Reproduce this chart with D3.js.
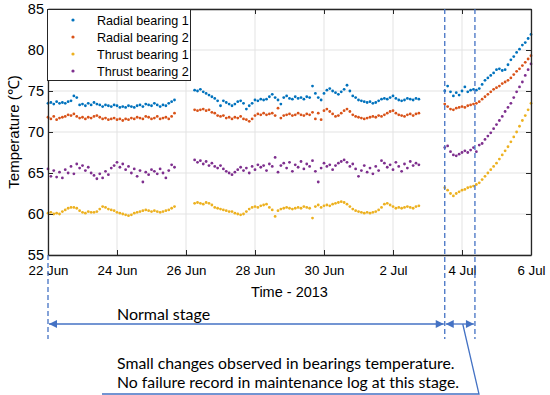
<!DOCTYPE html>
<html><head><meta charset="utf-8">
<script src="https://cdn.jsdelivr.net/npm/d3@7"></script>
<style>
html,body{margin:0;padding:0;background:#fff;}
svg{display:block;}
</style></head>
<body>
<svg id="chart" width="550" height="395"></svg>
<script>
// ---------------- DATA ----------------
const seriesNames = ["Radial bearing 1", "Radial bearing 2", "Thrust bearing 1", "Thrust bearing 2"];
const seriesColors = ["#0072BD", "#D95319", "#EDB120", "#7E2F8E"];
const segmentStarts = ["2013-06-22T00:00", "2013-06-26T06:00", "2013-07-03T12:00"];
const sampleHours = 2;
const xTickDates = ["2013-06-22", "2013-06-24", "2013-06-26", "2013-06-28", "2013-06-30", "2013-07-02", "2013-07-04", "2013-07-06"];
const yTicks = [55, 60, 65, 70, 75, 80, 85];
const stageBounds = ["2013-06-22T00:00", "2013-07-03T12:00", "2013-07-04T09:00"];

// Radial bearing 1
const rb1Seg1 = [73.5,73.6,73.4,73.7,73.5,73.6,73.5,73.7,73.8,74.4,74.2,73.3,73.4,73.2,73.5,73.3,73.6,73.4,73.3,73.1,73.3,73.2,73.1,73.3,73.2,73.0,73.1,73.0,73.2,73.1,73.0,73.2,73.3,73.1,73.4,73.3,73.2,73.5,73.3,73.1,73.3,73.2,73.5,73.7,73.9];
const rb1Seg2 = [75.1,75.0,75.2,74.9,74.7,74.5,74.3,74.1,73.8,73.2,73.8,73.6,73.4,73.2,73.4,73.7,73.8,73.5,72.8,73.2,73.5,73.9,73.8,74.0,73.9,74.0,74.3,74.6,74.2,73.9,73.4,74.2,74.4,74.1,74.0,74.3,74.1,74.2,74.0,74.3,74.2,75.6,74.7,74.2,73.9,74.7,75.1,75.3,75.0,74.8,74.6,74.9,75.2,75.7,75.0,74.4,74.2,73.9,73.8,73.7,73.6,73.7,73.5,73.6,73.8,74.0,74.1,74.0,74.2,74.4,74.1,73.9,73.8,73.9,74.1,74.0,73.9,74.1,74.0];
const rb1Seg3 = [75.0,75.6,74.9,74.4,74.8,74.5,75.0,75.5,74.9,75.1,75.2,75.1,75.3,75.8,76.3,76.6,76.9,77.2,77.6,77.7,77.5,77.6,78.2,78.8,79.2,79.7,80.1,80.6,80.9,81.4,81.9];

// Radial bearing 2
const rb2Seg1 = [71.8,71.6,71.9,71.5,71.7,71.8,71.9,72.1,72.0,72.2,71.9,71.7,71.8,71.6,71.8,71.7,71.9,72.0,71.8,71.6,71.7,71.5,71.6,71.7,71.5,71.6,71.4,71.6,71.5,71.7,71.6,71.8,71.7,71.6,71.9,71.8,71.6,71.7,71.9,71.6,71.7,71.8,71.6,71.9,72.3];
const rb2Seg2 = [72.7,72.6,72.7,72.8,72.6,72.7,72.4,72.3,72.0,71.9,72.0,71.7,71.8,71.6,71.8,71.7,71.9,71.6,71.5,71.3,71.6,72.0,72.2,72.1,72.3,72.1,72.2,72.3,72.0,72.9,71.7,72.0,72.1,72.2,72.0,72.1,72.3,72.1,72.0,72.2,72.1,72.4,71.6,72.3,71.5,72.6,72.8,72.5,72.2,71.9,72.0,72.3,72.6,72.8,72.5,72.1,71.9,71.8,71.7,71.6,71.7,71.8,71.9,71.8,72.0,71.9,72.1,72.3,72.5,72.6,72.3,72.1,72.0,71.9,72.1,72.2,72.0,72.2,72.3];
const rb2Seg3 = [73.4,73.1,72.8,72.7,72.9,73.0,73.1,73.0,73.2,73.3,73.4,73.5,73.7,74.0,74.3,74.6,74.9,75.2,75.4,75.6,75.9,76.1,76.3,76.6,77.0,77.4,77.7,78.1,78.5,78.9,79.3];

// Thrust bearing 1
const tb1Seg1 = [60.1,60.2,60.0,60.1,60.0,60.3,60.5,60.7,60.8,60.8,60.7,60.4,60.2,60.1,60.3,60.2,60.2,60.3,60.6,60.9,60.8,60.6,60.5,60.4,60.2,60.1,60.0,59.9,59.8,59.9,60.1,60.2,60.3,60.4,60.5,60.4,60.3,60.4,60.3,60.2,60.3,60.4,60.5,60.7,60.9];
const tb1Seg2 = [61.3,61.4,61.3,61.2,61.4,61.3,61.1,60.8,60.7,60.6,60.5,60.4,60.3,60.3,60.1,60.0,59.9,60.0,60.3,60.6,60.8,60.9,60.8,61.0,61.1,61.2,60.8,60.5,59.7,60.4,60.6,60.7,60.8,60.7,60.6,60.7,60.8,60.7,60.9,60.8,60.7,59.5,60.9,61.1,60.8,61.0,61.1,61.0,61.2,61.3,61.4,61.5,61.4,61.2,60.9,60.6,60.4,60.3,60.2,60.1,60.2,60.1,60.2,60.3,60.5,60.8,61.2,61.3,61.1,60.9,60.7,60.8,60.7,60.8,60.9,60.8,60.7,60.9,61.0];
const tb1Seg3 = [63.2,62.9,62.5,62.2,62.5,62.7,62.9,63.0,63.2,63.3,63.4,63.6,63.8,64.2,64.6,65.0,65.4,65.8,66.2,66.7,67.2,67.7,68.2,68.8,69.4,70.0,70.7,71.4,72.0,72.7,73.5];

// Thrust bearing 2
const tb2Seg1 = [65.5,64.6,65.3,64.5,65.1,64.4,65.4,65.0,65.8,64.9,66.1,65.6,65.9,65.3,65.7,65.0,64.7,64.3,64.9,64.4,65.2,64.8,65.6,65.9,66.3,65.7,66.1,65.4,65.8,65.0,65.5,64.6,65.3,63.9,65.1,64.8,65.4,65.2,64.9,65.5,65.0,64.4,65.3,66.0,65.7];
const tb2Seg2 = [66.6,66.3,66.5,66.1,66.4,65.9,66.2,65.8,65.6,65.9,65.5,65.2,65.0,64.8,65.1,65.4,65.7,65.3,65.6,65.0,65.8,65.4,66.0,65.7,65.9,65.3,66.1,65.8,66.9,65.1,65.9,66.2,65.6,66.3,65.2,66.0,65.7,66.4,65.5,66.1,65.8,66.5,65.2,63.9,65.6,66.2,65.8,66.0,65.4,65.9,66.2,66.4,66.6,66.3,65.8,66.1,65.5,64.6,65.3,65.9,65.1,65.6,64.9,65.8,65.3,66.5,66.2,65.7,66.0,65.4,66.3,65.8,65.2,66.1,65.6,66.4,65.9,66.2,66.0];
const tb2Seg3 = [68.1,68.3,67.6,67.2,67.1,67.3,67.5,67.7,67.5,67.8,68.1,67.6,68.4,68.6,69.1,69.5,69.9,70.4,70.9,71.4,71.9,72.5,73.0,73.5,74.2,74.9,75.5,76.1,76.9,77.6,78.3];

const seriesSegments = [
  [rb1Seg1, rb1Seg2, rb1Seg3],
  [rb2Seg1, rb2Seg2, rb2Seg3],
  [tb1Seg1, tb1Seg2, tb1Seg3],
  [tb2Seg1, tb2Seg2, tb2Seg3]
];

const annotationNormal = "Normal stage";
const annotationLines = ["Small changes observed in bearings temperature.", "No failure record in maintenance log at this stage."];

// ---------------- DRAW ----------------
const parse = s => new Date(s);
const svg = d3.select("#chart");
const L = 48, R = 531, T = 9, B = 255;
const x = d3.scaleTime().domain([parse("2013-06-22T00:00"), parse("2013-07-06T00:00")]).range([L, R]);
const y = d3.scaleLinear().domain([55, 85]).range([B, T]);
const axisColor = "#262626";
const annColor = "#4472C4";
const fmt = d3.timeFormat("%-d %b");
const fontAx = "Liberation Sans, Arial, sans-serif";

// grid
const g = svg.append("g");
g.selectAll(".gx").data(xTickDates.map(parse)).enter().append("line")
  .attr("x1", d => x(d)).attr("x2", d => x(d)).attr("y1", T).attr("y2", B)
  .attr("stroke", "#e3e3e3").attr("stroke-width", 1);
g.selectAll(".gy").data(yTicks).enter().append("line")
  .attr("y1", d => y(d)).attr("y2", d => y(d)).attr("x1", L).attr("x2", R)
  .attr("stroke", "#e3e3e3").attr("stroke-width", 1);

// dots
seriesSegments.forEach((segs, si) => {
  const pts = [];
  segs.forEach((vals, k) => {
    const t0 = parse(segmentStarts[k]);
    vals.forEach((v, i) => pts.push({t: d3.timeHour.offset(t0, i * sampleHours), v}));
  });
  svg.append("g").selectAll("circle").data(pts).enter().append("circle")
    .attr("cx", d => x(d.t)).attr("cy", d => y(d.v)).attr("r", 1.4)
    .attr("fill", seriesColors[si]);
});

// axes (box with inward ticks)
const xAxB = svg.append("g").attr("transform", `translate(0,${B})`)
  .call(d3.axisBottom(x).tickValues(xTickDates.map(parse)).tickFormat(fmt).tickSizeInner(-5).tickSizeOuter(0).tickPadding(11));
const xAxT = svg.append("g").attr("transform", `translate(0,${T})`)
  .call(d3.axisTop(x).tickValues(xTickDates.map(parse)).tickFormat("").tickSizeInner(-5).tickSizeOuter(0));
const yAxL = svg.append("g").attr("transform", `translate(${L},0)`)
  .call(d3.axisLeft(y).tickValues(yTicks).tickSizeInner(-5).tickSizeOuter(0).tickPadding(4));
const yAxR = svg.append("g").attr("transform", `translate(${R},0)`)
  .call(d3.axisRight(y).tickValues(yTicks).tickFormat("").tickSizeInner(-5).tickSizeOuter(0));
[xAxB, xAxT, yAxL, yAxR].forEach(a => {
  a.attr("font-family", fontAx);
  a.select(".domain").attr("stroke", axisColor).attr("stroke-width", 1.3);
  a.selectAll(".tick line").attr("stroke", axisColor);
  a.selectAll("text").attr("fill", "#000");
});
xAxB.attr("font-size", 13.3);
yAxL.attr("font-size", 14.5);

// axis titles
svg.append("text").attr("x", (L + R) / 2).attr("y", 297).attr("text-anchor", "middle")
  .attr("font-family", fontAx).attr("font-size", 14.5).text("Time - 2013");
svg.append("text").attr("transform", `translate(19,${(T + B) / 2}) rotate(-90)`).attr("text-anchor", "middle")
  .attr("font-family", fontAx).attr("font-size", 15).text("Temperature (\u2103)");

// legend
const lg = svg.append("g");
lg.append("rect").attr("x", 47.5).attr("y", 9.5).attr("width", 143).attr("height", 71)
  .attr("fill", "#fff").attr("stroke", axisColor).attr("stroke-width", 1);
seriesNames.forEach((n, i) => {
  const yy = 20 + i * 17;
  lg.append("circle").attr("cx", 73).attr("cy", yy).attr("r", 1.6).attr("fill", seriesColors[i]);
  lg.append("text").attr("x", 97).attr("y", yy + 4.5).attr("font-family", fontAx).attr("font-size", 12.6).text(n);
});

// annotation: dashed stage lines
const sb = stageBounds.map(parse);
svg.append("line").attr("x1", x(sb[0])).attr("x2", x(sb[0])).attr("y1", B).attr("y2", 339)
  .attr("stroke", annColor).attr("stroke-width", 1.3).attr("stroke-dasharray", "5,3");
[sb[1], sb[2]].forEach(d => {
  svg.append("line").attr("x1", x(d)).attr("x2", x(d)).attr("y1", T).attr("y2", 339)
    .attr("stroke", annColor).attr("stroke-width", 1.3).attr("stroke-dasharray", "5,3");
});

// arrows
const defs = svg.append("defs");
defs.append("marker").attr("id", "ah").attr("viewBox", "0 0 10 10").attr("refX", 10).attr("refY", 5)
  .attr("markerWidth", 9).attr("markerHeight", 8).attr("markerUnits", "userSpaceOnUse").attr("orient", "auto-start-reverse")
  .append("path").attr("d", "M0,0 L10,5 L0,10 z").attr("fill", annColor);
const ay = 324;
[[sb[0], sb[1]], [sb[1], sb[2]]].forEach(([a, b]) => {
  svg.append("line").attr("x1", x(a) + 1).attr("x2", x(b) - 1).attr("y1", ay).attr("y2", ay)
    .attr("stroke", annColor).attr("stroke-width", 1.3)
    .attr("marker-start", "url(#ah)").attr("marker-end", "url(#ah)");
});

const fontAnn = "Lato, 'Open Sans', sans-serif";
svg.append("text").attr("x", 117).attr("y", 319.5).attr("font-family", fontAnn).attr("font-size", 16).text(annotationNormal);
annotationLines.forEach((t, i) => {
  svg.append("text").attr("x", 117).attr("y", 369 + i * 18.5).attr("font-family", fontAnn).attr("font-size", 15.8).text(t);
});
// callout line
svg.append("polyline").attr("points", `${x(sb[1]) + 18},${ay} 479,394 102,394`)
  .attr("fill", "none").attr("stroke", annColor).attr("stroke-width", 1.3);
</script>
</body></html>
